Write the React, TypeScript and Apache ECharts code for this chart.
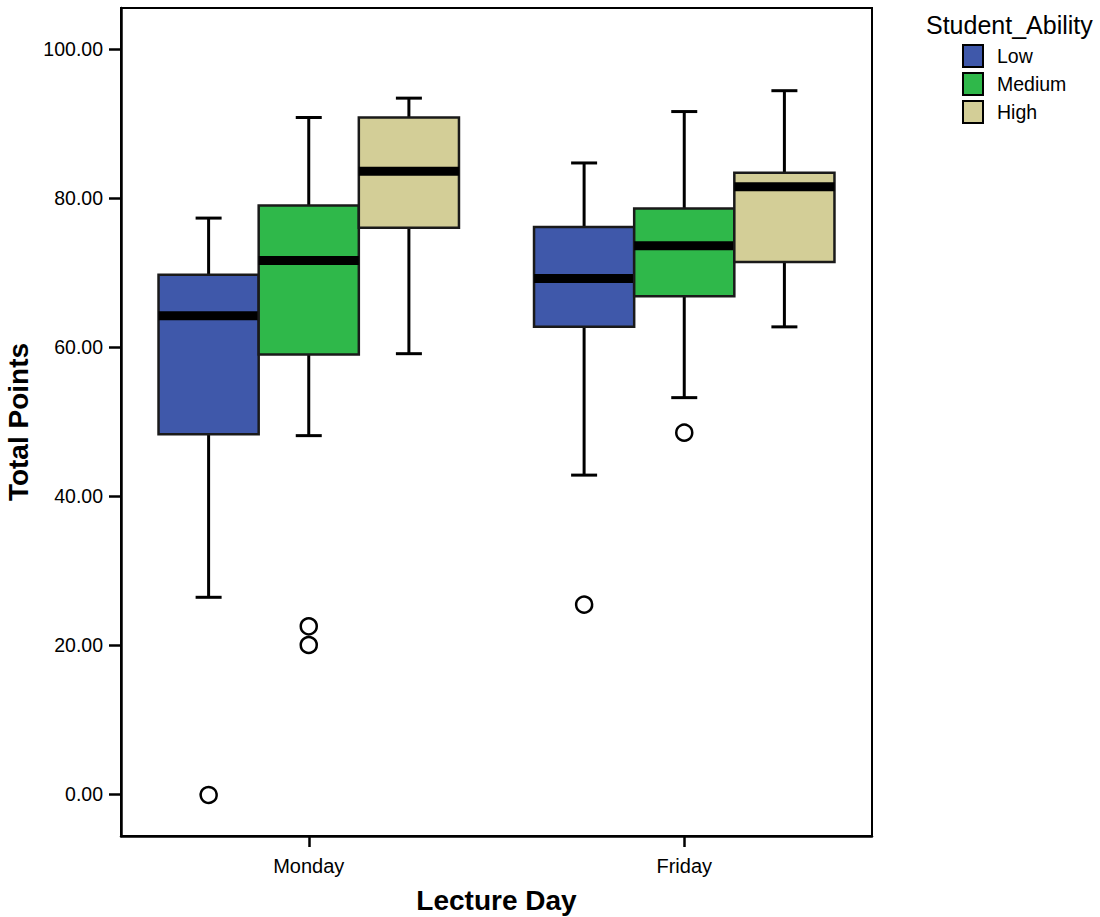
import React, { useEffect, useRef } from "react";
import * as echarts from "echarts";

const days = ["Monday", "Friday"];
const abilities = ["Low", "Medium", "High"];
const colors = ["#3F58AA", "#2FB84A", "#D3CE97"];
// [min, q1, median, q3, max] for Monday, Friday
const lowStats = [
  [26.4, 48.3, 64.2, 69.7, 77.3],
  [42.8, 62.7, 69.2, 76.1, 84.7],
];
const mediumStats = [
  [48.1, 59.0, 71.6, 79.0, 90.8],
  [53.2, 66.8, 73.6, 78.6, 91.6],
];
const highStats = [
  [59.1, 76.0, 83.6, 90.8, 93.4],
  [62.7, 71.4, 81.5, 83.4, 94.4],
];
// [dayIndex, abilityIndex, value]
const outliers = [
  [0, 0, 0.0],
  [0, 1, 22.5],
  [0, 1, 20.0],
  [1, 0, 25.5],
  [1, 1, 48.5],
];
const yTicks = [0, 20, 40, 60, 80, 100];

const BOX_FRAC = 0.2667;
const FONT = "Liberation Sans, Arial, sans-serif";

function makeBoxRenderer(groupIdx: number, color: string) {
  return (params: any, api: any) => {
    const cat = api.value(0);
    const band = api.size([1, 0])[0];
    const w = band * BOX_FRAC;
    const cx = api.coord([cat, 0])[0] + (groupIdx - 1) * w;
    const yMin = api.coord([cat, api.value(1)])[1];
    const yQ1 = api.coord([cat, api.value(2)])[1];
    const yMed = api.coord([cat, api.value(3)])[1];
    const yQ3 = api.coord([cat, api.value(4)])[1];
    const yMax = api.coord([cat, api.value(5)])[1];
    const cap = 13;
    const ls = { stroke: "#000", lineWidth: 3 };
    return {
      type: "group",
      children: [
        { type: "line", shape: { x1: cx, y1: yMax, x2: cx, y2: yQ3 }, style: ls },
        { type: "line", shape: { x1: cx, y1: yQ1, x2: cx, y2: yMin }, style: ls },
        { type: "line", shape: { x1: cx - cap, y1: yMax, x2: cx + cap, y2: yMax }, style: ls },
        { type: "line", shape: { x1: cx - cap, y1: yMin, x2: cx + cap, y2: yMin }, style: ls },
        {
          type: "rect",
          shape: { x: cx - w / 2, y: yQ3, width: w, height: yQ1 - yQ3 },
          style: { fill: color, stroke: "#1a1a1a", lineWidth: 2.5 },
        },
        {
          type: "rect",
          shape: { x: cx - w / 2, y: yMed - 4.5, width: w, height: 9 },
          style: { fill: "#000" },
        },
      ],
    };
  };
}

function renderOutlier(params: any, api: any) {
  const cat = api.value(0);
  const g = api.value(1);
  const band = api.size([1, 0])[0];
  const w = band * BOX_FRAC;
  const cx = api.coord([cat, 0])[0] + (g - 1) * w;
  const cy = api.coord([cat, api.value(2)])[1];
  return {
    type: "circle",
    shape: { cx, cy, r: 8 },
    style: { fill: "#fff", stroke: "#000", lineWidth: 2.5 },
  };
}

export default function App() {
  const ref = useRef<HTMLDivElement>(null);
  useEffect(() => {
    if (!ref.current) return;
    const chart = echarts.init(ref.current, null, { renderer: "svg" });
    const statsList = [lowStats, mediumStats, highStats];
    const series: any[] = statsList.map((stats, gi) => ({
      type: "custom",
      name: abilities[gi],
      itemStyle: { color: colors[gi] },
      renderItem: makeBoxRenderer(gi, colors[gi]),
      encode: { x: 0, y: [1, 2, 3, 4, 5] },
      data: stats.map((s, i) => [i, ...s]),
      z: 2 + gi,
    }));
    series.push({
      type: "custom",
      name: "outliers",
      renderItem: renderOutlier,
      encode: { x: 0, y: 2 },
      data: outliers,
      z: 10,
    });
    chart.setOption({
      animation: false,
      textStyle: { fontFamily: FONT },
      grid: {
        left: 121,
        top: 8,
        width: 751,
        height: 828,
        show: true,
        borderColor: "#000",
        borderWidth: 2,
        containLabel: false,
        outerBoundsMode: "none",
      },
      legend: {
        data: abilities,
        orient: "vertical",
        left: 962,
        top: 44,
        padding: 0,
        icon: "rect",
        itemWidth: 20,
        itemHeight: 22,
        itemGap: 4,
        itemStyle: { borderColor: "#000", borderWidth: 2 },
        textStyle: { fontSize: 19.5, color: "#000", padding: [0, 0, 0, 9] },
        selectedMode: false,
      },
      graphic: [
        {
          type: "text",
          left: 926,
          top: 12,
          style: {
            text: "Student_Ability",
            fontSize: 25,
            fill: "#000",
            fontFamily: FONT,
          },
        },
      ],
      xAxis: {
        type: "category",
        data: days,
        name: "Lecture Day",
        nameLocation: "middle",
        nameGap: 50,
        nameTextStyle: { fontSize: 28, fontWeight: "bold", color: "#000" },
        axisLine: { show: true, onZero: false, lineStyle: { color: "#000", width: 2.5 } },
        axisTick: {
          show: true,
          alignWithLabel: true,
          length: 11,
          lineStyle: { color: "#000", width: 2.5 },
        },
        axisLabel: { fontSize: 20, color: "#000", margin: 20 },
        splitLine: { show: false },
      },
      yAxis: {
        type: "value",
        min: -5.64,
        max: 105.5,
        name: "Total Points",
        nameLocation: "middle",
        nameGap: 80,
        nameRotate: 90,
        nameTextStyle: { fontSize: 28, fontWeight: "bold", color: "#000" },
        axisLine: { show: true, lineStyle: { color: "#000", width: 2.5 } },
        axisTick: {
          show: true,
          length: 12,
          customValues: yTicks,
          lineStyle: { color: "#000", width: 2.5 },
        },
        axisLabel: {
          fontSize: 19.5,
          color: "#000",
          margin: 18,
          customValues: yTicks,
          formatter: (v: number) => v.toFixed(2),
        },
        splitLine: { show: false },
      },
      series,
    });
    return () => chart.dispose();
  }, []);
  return (
    <div
      ref={ref}
      style={{ position: "absolute", left: 0, top: 0, width: 1100, height: 917, background: "#fff" }}
    />
  );
}
